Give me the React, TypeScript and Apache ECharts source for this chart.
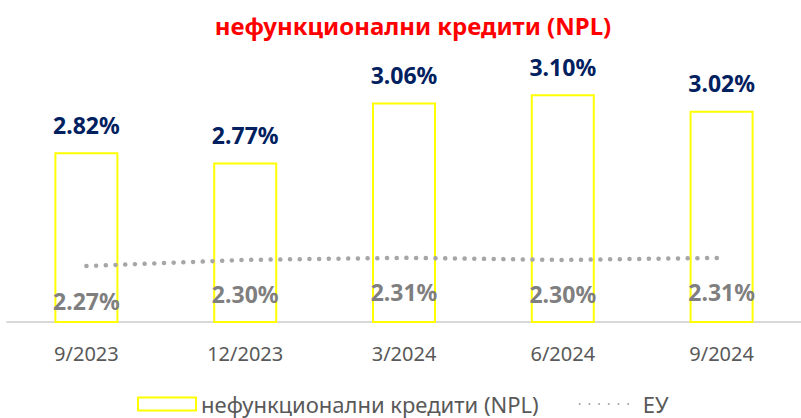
import React, { useEffect, useRef } from "react";
import * as echarts from "echarts";

const categories = ["9/2023", "12/2023", "3/2024", "6/2024", "9/2024"];
const nplValues = [2.82, 2.77, 3.06, 3.1, 3.02];
const euValues = [2.27, 2.3, 2.31, 2.3, 2.31];
const titleText = "нефункционални кредити (NPL)";
const nplName = "нефункционални кредити (NPL)";
const euName = "ЕУ";

const FONT = "'Noto Sans', 'DejaVu Sans', sans-serif";

export default function App() {
  const ref = useRef<HTMLDivElement>(null);
  useEffect(() => {
    if (!ref.current) return;
    const chart = echarts.init(ref.current, undefined, { renderer: "svg" });
    chart.setOption({
      animation: false,
      backgroundColor: "#ffffff",
      textStyle: { fontFamily: FONT },
      title: {
        text: titleText,
        left: 408,
        textAlign: "center",
        top: 8,
        textStyle: { color: "#ff0000", fontSize: 24, fontWeight: "bold", fontFamily: FONT },
      },
      legend: {
        top: 392,
        left: 137,
        padding: 0,
        itemWidth: 58,
        itemHeight: 13,
        itemGap: 40,
        textStyle: { color: "#595959", fontSize: 22, lineHeight: 24, fontFamily: FONT },
        data: [
          { name: nplName, icon: "rect" },
          { name: euName },
        ],
      },
      grid: { left: 7, width: 800, top: 73.6, height: 248.4 },
      xAxis: {
        type: "category",
        data: categories,
        axisLine: { show: true, lineStyle: { color: "#d9d9d9", width: 2 } },
        axisTick: { show: false },
        axisLabel: { color: "#595959", fontSize: 20, margin: 21, fontFamily: FONT },
      },
      yAxis: {
        type: "value",
        min: 2,
        max: 3.2,
        show: false,
        splitLine: { show: false },
      },
      series: [
        {
          name: nplName,
          type: "bar",
          data: nplValues,
          barWidth: 64,
          itemStyle: { color: "#ffffff", borderColor: "#ffff00", borderWidth: 2 },
          label: {
            show: true,
            position: "top",
            distance: 16,
            color: "#002060",
            fontSize: 23,
            fontWeight: "bold",
            fontFamily: FONT,
            formatter: (p: any) => p.value.toFixed(2) + "%",
          },
        },
        {
          name: euName,
          type: "line",
          data: euValues,
          symbol: "circle",
          symbolSize: 0,
          itemStyle: { color: "#a6a6a6", opacity: 0 },
          lineStyle: { color: "#a6a6a6", width: 4.5, type: [0.1, 9.6], cap: "round" },
          label: {
            show: true,
            position: "bottom",
            distance: 23,
            color: "#7f7f7f",
            fontSize: 23,
            fontWeight: "bold",
            fontFamily: FONT,
            opacity: 1,
            formatter: (p: any) => p.value.toFixed(2) + "%",
          },
        },
      ],
    });
    return () => chart.dispose();
  }, []);
  return <div ref={ref} style={{ position: "absolute", left: 0, top: 0, width: 801, height: 418 }} />;
}
